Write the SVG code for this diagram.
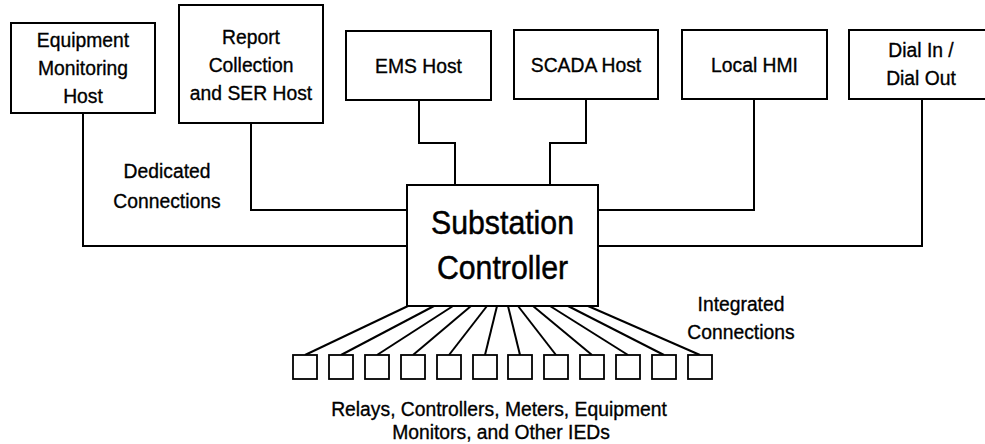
<svg xmlns="http://www.w3.org/2000/svg" width="985" height="444" viewBox="0 0 985 444">
  <style>
    .box { fill: #ffffff; stroke: #000000; stroke-width: 2; }
    .dev { fill: #ffffff; stroke: #000000; stroke-width: 1.8; }
    .wire { fill: none; stroke: #000000; stroke-width: 2; }
    /* labels: slightly condensed, medium weight */
    .lbl { font-family: "Liberation Sans", Arial, sans-serif; font-size: 21px; fill: #000000; stroke: #000000; stroke-width: 0.35; text-anchor: middle; }
    .big { font-family: "Liberation Sans", Arial, sans-serif; font-size: 34px; fill: #000000; stroke: #000000; stroke-width: 0.5; text-anchor: middle; }
  </style>
  <rect width="985" height="444" fill="#ffffff"/>

  <!-- connectors -->
  <g id="connectors">
    <path class="wire" d="M83,113 V246 H407"/>
    <path class="wire" d="M251,123 V210 H407"/>
    <path class="wire" d="M419,100 V143 H455 V185"/>
    <path class="wire" d="M586,99 V143 H550 V185"/>
    <path class="wire" d="M754,99 V210 H598"/>
    <path class="wire" d="M922,99 V246 H598"/>
    <!-- fan-out to field devices -->
    <path class="wire" d="M408,306 L305,355"/>
    <path class="wire" d="M434,306 L341,355"/>
    <path class="wire" d="M453,306 L377,355"/>
    <path class="wire" d="M471,306 L413,355"/>
    <path class="wire" d="M487,306 L449,355"/>
    <path class="wire" d="M497,306 L485,355"/>
    <path class="wire" d="M508,306 L520,355"/>
    <path class="wire" d="M518,306 L556,355"/>
    <path class="wire" d="M533,306 L592,355"/>
    <path class="wire" d="M550,306 L628,355"/>
    <path class="wire" d="M568,306 L664,355"/>
    <path class="wire" d="M588,306 L700,355"/>
  </g>

  <g id="equipment-monitoring-host">
    <rect class="box" x="11" y="23" width="144" height="90"/>
    <text class="lbl" transform="translate(83,47) scale(0.92,1)">Equipment</text>
    <text class="lbl" transform="translate(83,75) scale(0.92,1)">Monitoring</text>
    <text class="lbl" transform="translate(83,103) scale(0.92,1)">Host</text>
  </g>

  <g id="report-collection-host">
    <rect class="box" x="179" y="5" width="144" height="118"/>
    <text class="lbl" transform="translate(251,44) scale(0.92,1)">Report</text>
    <text class="lbl" transform="translate(251,72) scale(0.92,1)">Collection</text>
    <text class="lbl" transform="translate(251,100) scale(0.92,1)">and SER Host</text>
  </g>

  <g id="ems-host">
    <rect class="box" x="346" y="31" width="145" height="69"/>
    <text class="lbl" transform="translate(418.5,73) scale(0.92,1)">EMS Host</text>
  </g>

  <g id="scada-host">
    <rect class="box" x="514" y="30" width="144" height="69"/>
    <text class="lbl" transform="translate(586,72) scale(0.92,1)">SCADA Host</text>
  </g>

  <g id="local-hmi">
    <rect class="box" x="682" y="30" width="145" height="69"/>
    <text class="lbl" transform="translate(754.5,72) scale(0.92,1)">Local HMI</text>
  </g>

  <g id="dial-in-out">
    <rect class="box" x="849" y="30" width="144" height="69"/>
    <text class="lbl" transform="translate(921,57) scale(0.92,1)">Dial In /</text>
    <text class="lbl" transform="translate(921,85) scale(0.92,1)">Dial Out</text>
  </g>

  <g id="substation-controller">
    <rect class="box" x="407" y="185" width="191" height="121"/>
    <text class="big" transform="translate(502.5,234) scale(0.89,1)">Substation</text>
    <text class="big" transform="translate(502.5,279) scale(0.89,1)">Controller</text>
  </g>

  <g id="field-devices">
    <rect class="dev" x="293" y="355" width="24" height="24"/>
    <rect class="dev" x="329" y="355" width="24" height="24"/>
    <rect class="dev" x="365" y="355" width="24" height="24"/>
    <rect class="dev" x="401" y="355" width="24" height="24"/>
    <rect class="dev" x="437" y="355" width="24" height="24"/>
    <rect class="dev" x="473" y="355" width="24" height="24"/>
    <rect class="dev" x="508" y="355" width="24" height="24"/>
    <rect class="dev" x="544" y="355" width="24" height="24"/>
    <rect class="dev" x="580" y="355" width="24" height="24"/>
    <rect class="dev" x="616" y="355" width="24" height="24"/>
    <rect class="dev" x="652" y="355" width="24" height="24"/>
    <rect class="dev" x="688" y="355" width="24" height="24"/>
  </g>

  <g id="labels">
    <text class="lbl" transform="translate(167,178) scale(0.92,1)">Dedicated</text>
    <text class="lbl" transform="translate(167,208) scale(0.92,1)">Connections</text>
    <text class="lbl" transform="translate(741,311) scale(0.92,1)">Integrated</text>
    <text class="lbl" transform="translate(741,339) scale(0.92,1)">Connections</text>
    <text class="lbl" transform="translate(499,416) scale(0.92,1)">Relays, Controllers, Meters, Equipment</text>
    <text class="lbl" transform="translate(501,439) scale(0.92,1)">Monitors, and Other IEDs</text>
  </g>
</svg>
